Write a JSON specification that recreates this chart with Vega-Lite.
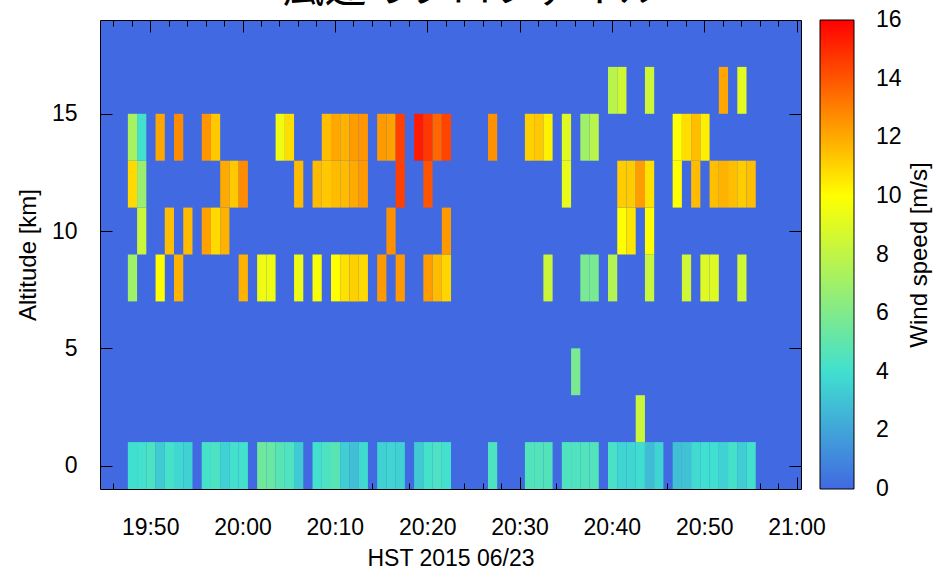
{
  "$schema": "https://vega.github.io/schema/vega-lite/v6.json",
  "autosize": {"type": "none"},
  "padding": {"left": 100, "top": 20, "right": 134, "bottom": 82},
  "width": 701,
  "height": 469,
  "background": "white",
  "title": {"text": "風速のプロファイル", "font": "Noto Sans CJK JP", "fontSize": 42, "fontWeight": "normal", "color": "black", "anchor": "middle", "frame": "group", "dx": 21, "offset": -24, "baseline": "alphabetic"},
  "config": {
    "view": {"fill": "#4169e1", "stroke": "black", "strokeWidth": 1},
    "font": "Liberation Sans",
    "axis": {"labelColor": "black", "titleColor": "black", "tickColor": "black", "tickWidth": 1, "domain": false, "grid": false, "labelFont": "Liberation Sans", "titleFont": "Liberation Sans", "titleFontWeight": "normal"},
    "legend": {"labelColor": "black", "titleColor": "black", "labelFont": "Liberation Sans", "titleFont": "Liberation Sans", "titleFontWeight": "normal"}
  },
  "data": {
    "format": {"parse": {"t": "date:'%H:%M:%S'", "e": "date:'%H:%M:%S'"}},
    "values": [
      {"t": "19:47:35", "e": "19:48:35", "a": -1, "b": 1, "w": 4.0}, {"t": "19:48:35", "e": "19:49:35", "a": -1, "b": 1, "w": 4.1}, {"t": "19:49:35", "e": "19:50:35", "a": -1, "b": 1, "w": 4.4}, {"t": "19:50:35", "e": "19:51:35", "a": -1, "b": 1, "w": 3.3}, {"t": "19:51:35", "e": "19:52:35", "a": -1, "b": 1, "w": 4.2}, {"t": "19:52:35", "e": "19:53:35", "a": -1, "b": 1, "w": 3.7}, {"t": "19:53:35", "e": "19:54:35", "a": -1, "b": 1, "w": 3.5},
      {"t": "19:55:35", "e": "19:56:35", "a": -1, "b": 1, "w": 4.2}, {"t": "19:56:35", "e": "19:57:35", "a": -1, "b": 1, "w": 4.4}, {"t": "19:57:35", "e": "19:58:35", "a": -1, "b": 1, "w": 3.5}, {"t": "19:58:35", "e": "19:59:35", "a": -1, "b": 1, "w": 4.1}, {"t": "19:59:35", "e": "20:00:35", "a": -1, "b": 1, "w": 4.1},
      {"t": "20:01:35", "e": "20:02:35", "a": -1, "b": 1, "w": 5.5}, {"t": "20:02:35", "e": "20:03:35", "a": -1, "b": 1, "w": 5.3}, {"t": "20:03:35", "e": "20:04:35", "a": -1, "b": 1, "w": 4.8}, {"t": "20:04:35", "e": "20:05:35", "a": -1, "b": 1, "w": 4.5}, {"t": "20:05:35", "e": "20:06:35", "a": -1, "b": 1, "w": 3.3},
      {"t": "20:07:35", "e": "20:08:35", "a": -1, "b": 1, "w": 4.1}, {"t": "20:08:35", "e": "20:09:35", "a": -1, "b": 1, "w": 4.4}, {"t": "20:09:35", "e": "20:10:35", "a": -1, "b": 1, "w": 4.8}, {"t": "20:10:35", "e": "20:11:35", "a": -1, "b": 1, "w": 3.4}, {"t": "20:11:35", "e": "20:12:35", "a": -1, "b": 1, "w": 2.9}, {"t": "20:12:35", "e": "20:13:35", "a": -1, "b": 1, "w": 3.8},
      {"t": "20:14:35", "e": "20:15:35", "a": -1, "b": 1, "w": 3.5}, {"t": "20:15:35", "e": "20:16:35", "a": -1, "b": 1, "w": 3.6}, {"t": "20:16:35", "e": "20:17:35", "a": -1, "b": 1, "w": 3.5},
      {"t": "20:18:35", "e": "20:19:35", "a": -1, "b": 1, "w": 3.3}, {"t": "20:19:35", "e": "20:20:35", "a": -1, "b": 1, "w": 4.2}, {"t": "20:20:35", "e": "20:21:35", "a": -1, "b": 1, "w": 4.4}, {"t": "20:21:35", "e": "20:22:35", "a": -1, "b": 1, "w": 4.1},
      {"t": "20:26:35", "e": "20:27:35", "a": -1, "b": 1, "w": 4.4},
      {"t": "20:30:35", "e": "20:31:35", "a": -1, "b": 1, "w": 4.6}, {"t": "20:31:35", "e": "20:32:35", "a": -1, "b": 1, "w": 4.6}, {"t": "20:32:35", "e": "20:33:35", "a": -1, "b": 1, "w": 4.6},
      {"t": "20:34:35", "e": "20:35:35", "a": -1, "b": 1, "w": 4.5}, {"t": "20:35:35", "e": "20:36:35", "a": -1, "b": 1, "w": 4.5}, {"t": "20:36:35", "e": "20:37:35", "a": -1, "b": 1, "w": 4.6}, {"t": "20:37:35", "e": "20:38:35", "a": -1, "b": 1, "w": 4.6},
      {"t": "20:39:35", "e": "20:40:35", "a": -1, "b": 1, "w": 4.3}, {"t": "20:40:35", "e": "20:41:35", "a": -1, "b": 1, "w": 3.6}, {"t": "20:41:35", "e": "20:42:35", "a": -1, "b": 1, "w": 3.7}, {"t": "20:42:35", "e": "20:43:35", "a": -1, "b": 1, "w": 3.9}, {"t": "20:43:35", "e": "20:44:35", "a": -1, "b": 1, "w": 2.8}, {"t": "20:44:35", "e": "20:45:35", "a": -1, "b": 1, "w": 3.6},
      {"t": "20:46:35", "e": "20:47:35", "a": -1, "b": 1, "w": 2.9}, {"t": "20:47:35", "e": "20:48:35", "a": -1, "b": 1, "w": 3.0}, {"t": "20:48:35", "e": "20:49:35", "a": -1, "b": 1, "w": 3.8}, {"t": "20:49:35", "e": "20:50:35", "a": -1, "b": 1, "w": 4.0}, {"t": "20:50:35", "e": "20:51:35", "a": -1, "b": 1, "w": 4.0}, {"t": "20:51:35", "e": "20:52:35", "a": -1, "b": 1, "w": 3.5}, {"t": "20:52:35", "e": "20:53:35", "a": -1, "b": 1, "w": 4.2}, {"t": "20:53:35", "e": "20:54:35", "a": -1, "b": 1, "w": 3.4}, {"t": "20:54:35", "e": "20:55:35", "a": -1, "b": 1, "w": 4.1},
      {"t": "20:42:35", "e": "20:43:35", "a": 1, "b": 3, "w": 8.3},
      {"t": "20:35:35", "e": "20:36:35", "a": 3, "b": 5, "w": 5.8},
      {"t": "19:47:35", "e": "19:48:35", "a": 7, "b": 9, "w": 7.0}, {"t": "19:50:35", "e": "19:51:35", "a": 7, "b": 9, "w": 10.0}, {"t": "19:52:35", "e": "19:53:35", "a": 7, "b": 9, "w": 11.8}, {"t": "19:59:35", "e": "20:00:35", "a": 7, "b": 9, "w": 11.8}, {"t": "20:01:35", "e": "20:02:35", "a": 7, "b": 9, "w": 9.5}, {"t": "20:02:35", "e": "20:03:35", "a": 7, "b": 9, "w": 9.5}, {"t": "20:05:35", "e": "20:06:35", "a": 7, "b": 9, "w": 9.4}, {"t": "20:07:35", "e": "20:08:35", "a": 7, "b": 9, "w": 9.8}, {"t": "20:09:35", "e": "20:10:35", "a": 7, "b": 9, "w": 10.0}, {"t": "20:10:35", "e": "20:11:35", "a": 7, "b": 9, "w": 10.7}, {"t": "20:11:35", "e": "20:12:35", "a": 7, "b": 9, "w": 11.1}, {"t": "20:12:35", "e": "20:13:35", "a": 7, "b": 9, "w": 10.9}, {"t": "20:14:35", "e": "20:15:35", "a": 7, "b": 9, "w": 12.4}, {"t": "20:16:35", "e": "20:17:35", "a": 7, "b": 9, "w": 12.4}, {"t": "20:19:35", "e": "20:20:35", "a": 7, "b": 9, "w": 12.3}, {"t": "20:20:35", "e": "20:21:35", "a": 7, "b": 9, "w": 11.6}, {"t": "20:21:35", "e": "20:22:35", "a": 7, "b": 9, "w": 11.0}, {"t": "20:32:35", "e": "20:33:35", "a": 7, "b": 9, "w": 8.3}, {"t": "20:36:35", "e": "20:37:35", "a": 7, "b": 9, "w": 5.8}, {"t": "20:37:35", "e": "20:38:35", "a": 7, "b": 9, "w": 5.8}, {"t": "20:39:35", "e": "20:40:35", "a": 7, "b": 9, "w": 7.6}, {"t": "20:43:35", "e": "20:44:35", "a": 7, "b": 9, "w": 8.2}, {"t": "20:47:35", "e": "20:48:35", "a": 7, "b": 9, "w": 8.5}, {"t": "20:49:35", "e": "20:50:35", "a": 7, "b": 9, "w": 9.0}, {"t": "20:50:35", "e": "20:51:35", "a": 7, "b": 9, "w": 9.0}, {"t": "20:53:35", "e": "20:54:35", "a": 7, "b": 9, "w": 8.5},
      {"t": "19:48:35", "e": "19:49:35", "a": 9, "b": 11, "w": 8.3}, {"t": "19:51:35", "e": "19:52:35", "a": 9, "b": 11, "w": 11.5}, {"t": "19:53:35", "e": "19:54:35", "a": 9, "b": 11, "w": 11.6}, {"t": "19:55:35", "e": "19:56:35", "a": 9, "b": 11, "w": 12.2}, {"t": "19:56:35", "e": "19:57:35", "a": 9, "b": 11, "w": 10.9}, {"t": "19:57:35", "e": "19:58:35", "a": 9, "b": 11, "w": 11.8}, {"t": "20:15:35", "e": "20:16:35", "a": 9, "b": 11, "w": 12.6}, {"t": "20:21:35", "e": "20:22:35", "a": 9, "b": 11, "w": 12.4}, {"t": "20:40:35", "e": "20:41:35", "a": 9, "b": 11, "w": 10.0}, {"t": "20:41:35", "e": "20:42:35", "a": 9, "b": 11, "w": 10.6}, {"t": "20:43:35", "e": "20:44:35", "a": 9, "b": 11, "w": 10.0},
      {"t": "19:47:35", "e": "19:48:35", "a": 11, "b": 13, "w": 10.9}, {"t": "19:48:35", "e": "19:49:35", "a": 11, "b": 13, "w": 6.8}, {"t": "19:57:35", "e": "19:58:35", "a": 11, "b": 13, "w": 12.0}, {"t": "19:58:35", "e": "19:59:35", "a": 11, "b": 13, "w": 11.3}, {"t": "19:59:35", "e": "20:00:35", "a": 11, "b": 13, "w": 12.7}, {"t": "20:05:35", "e": "20:06:35", "a": 11, "b": 13, "w": 11.6}, {"t": "20:07:35", "e": "20:08:35", "a": 11, "b": 13, "w": 11.6}, {"t": "20:08:35", "e": "20:09:35", "a": 11, "b": 13, "w": 11.3}, {"t": "20:09:35", "e": "20:10:35", "a": 11, "b": 13, "w": 11.6}, {"t": "20:10:35", "e": "20:11:35", "a": 11, "b": 13, "w": 11.6}, {"t": "20:11:35", "e": "20:12:35", "a": 11, "b": 13, "w": 12.0}, {"t": "20:12:35", "e": "20:13:35", "a": 11, "b": 13, "w": 12.4}, {"t": "20:16:35", "e": "20:17:35", "a": 11, "b": 13, "w": 14.5}, {"t": "20:19:35", "e": "20:20:35", "a": 11, "b": 13, "w": 14.0}, {"t": "20:34:35", "e": "20:35:35", "a": 11, "b": 13, "w": 9.3}, {"t": "20:40:35", "e": "20:41:35", "a": 11, "b": 13, "w": 11.2}, {"t": "20:41:35", "e": "20:42:35", "a": 11, "b": 13, "w": 11.2}, {"t": "20:42:35", "e": "20:43:35", "a": 11, "b": 13, "w": 12.3}, {"t": "20:43:35", "e": "20:44:35", "a": 11, "b": 13, "w": 10.7}, {"t": "20:46:35", "e": "20:47:35", "a": 11, "b": 13, "w": 10.0}, {"t": "20:48:35", "e": "20:49:35", "a": 11, "b": 13, "w": 11.6}, {"t": "20:50:35", "e": "20:51:35", "a": 11, "b": 13, "w": 11.5}, {"t": "20:51:35", "e": "20:52:35", "a": 11, "b": 13, "w": 11.8}, {"t": "20:52:35", "e": "20:53:35", "a": 11, "b": 13, "w": 11.5}, {"t": "20:53:35", "e": "20:54:35", "a": 11, "b": 13, "w": 11.2}, {"t": "20:54:35", "e": "20:55:35", "a": 11, "b": 13, "w": 11.5},
      {"t": "19:47:35", "e": "19:48:35", "a": 13, "b": 15, "w": 7.3}, {"t": "19:48:35", "e": "19:49:35", "a": 13, "b": 15, "w": 4.1}, {"t": "19:50:35", "e": "19:51:35", "a": 13, "b": 15, "w": 12.1}, {"t": "19:52:35", "e": "19:53:35", "a": 13, "b": 15, "w": 12.7}, {"t": "19:55:35", "e": "19:56:35", "a": 13, "b": 15, "w": 12.5}, {"t": "19:56:35", "e": "19:57:35", "a": 13, "b": 15, "w": 11.3}, {"t": "20:03:35", "e": "20:04:35", "a": 13, "b": 15, "w": 9.5}, {"t": "20:04:35", "e": "20:05:35", "a": 13, "b": 15, "w": 10.8}, {"t": "20:08:35", "e": "20:09:35", "a": 13, "b": 15, "w": 11.5}, {"t": "20:09:35", "e": "20:10:35", "a": 13, "b": 15, "w": 12.1}, {"t": "20:10:35", "e": "20:11:35", "a": 13, "b": 15, "w": 11.8}, {"t": "20:11:35", "e": "20:12:35", "a": 13, "b": 15, "w": 12.3}, {"t": "20:12:35", "e": "20:13:35", "a": 13, "b": 15, "w": 12.5}, {"t": "20:14:35", "e": "20:15:35", "a": 13, "b": 15, "w": 12.4}, {"t": "20:15:35", "e": "20:16:35", "a": 13, "b": 15, "w": 12.2}, {"t": "20:16:35", "e": "20:17:35", "a": 13, "b": 15, "w": 14.5}, {"t": "20:18:35", "e": "20:19:35", "a": 13, "b": 15, "w": 15.4}, {"t": "20:19:35", "e": "20:20:35", "a": 13, "b": 15, "w": 14.7}, {"t": "20:20:35", "e": "20:21:35", "a": 13, "b": 15, "w": 13.6}, {"t": "20:21:35", "e": "20:22:35", "a": 13, "b": 15, "w": 14.4}, {"t": "20:26:35", "e": "20:27:35", "a": 13, "b": 15, "w": 12.6}, {"t": "20:30:35", "e": "20:31:35", "a": 13, "b": 15, "w": 11.1}, {"t": "20:31:35", "e": "20:32:35", "a": 13, "b": 15, "w": 11.3}, {"t": "20:32:35", "e": "20:33:35", "a": 13, "b": 15, "w": 10.3}, {"t": "20:34:35", "e": "20:35:35", "a": 13, "b": 15, "w": 9.0}, {"t": "20:36:35", "e": "20:37:35", "a": 13, "b": 15, "w": 7.0}, {"t": "20:37:35", "e": "20:38:35", "a": 13, "b": 15, "w": 7.8}, {"t": "20:46:35", "e": "20:47:35", "a": 13, "b": 15, "w": 10.0}, {"t": "20:47:35", "e": "20:48:35", "a": 13, "b": 15, "w": 10.8}, {"t": "20:48:35", "e": "20:49:35", "a": 13, "b": 15, "w": 11.5}, {"t": "20:49:35", "e": "20:50:35", "a": 13, "b": 15, "w": 10.4},
      {"t": "20:39:35", "e": "20:40:35", "a": 15, "b": 17, "w": 7.8}, {"t": "20:40:35", "e": "20:41:35", "a": 15, "b": 17, "w": 8.5}, {"t": "20:43:35", "e": "20:44:35", "a": 15, "b": 17, "w": 8.4}, {"t": "20:51:35", "e": "20:52:35", "a": 15, "b": 17, "w": 12.1}, {"t": "20:53:35", "e": "20:54:35", "a": 15, "b": 17, "w": 9.1}
    ]
  },
  "layer": [
    {
      "mark": {"type": "rect", "strokeWidth": 0},
      "encoding": {
        "x": {
          "field": "t", "type": "temporal",
          "scale": {"domain": [{"year": 1900, "month": 1, "date": 1, "hours": 19, "minutes": 44, "seconds": 34}, {"year": 1900, "month": 1, "date": 1, "hours": 21, "minutes": 0, "seconds": 29}], "nice": false},
          "axis": {
            "orient": "bottom",
            "values": [
              {"year": 1900, "month": 1, "date": 1, "hours": 19, "minutes": 46}, {"year": 1900, "month": 1, "date": 1, "hours": 19, "minutes": 48},
              {"year": 1900, "month": 1, "date": 1, "hours": 19, "minutes": 50}, {"year": 1900, "month": 1, "date": 1, "hours": 19, "minutes": 52},
              {"year": 1900, "month": 1, "date": 1, "hours": 19, "minutes": 54}, {"year": 1900, "month": 1, "date": 1, "hours": 19, "minutes": 56},
              {"year": 1900, "month": 1, "date": 1, "hours": 19, "minutes": 58}, {"year": 1900, "month": 1, "date": 1, "hours": 20, "minutes": 0},
              {"year": 1900, "month": 1, "date": 1, "hours": 20, "minutes": 2}, {"year": 1900, "month": 1, "date": 1, "hours": 20, "minutes": 4},
              {"year": 1900, "month": 1, "date": 1, "hours": 20, "minutes": 6}, {"year": 1900, "month": 1, "date": 1, "hours": 20, "minutes": 8},
              {"year": 1900, "month": 1, "date": 1, "hours": 20, "minutes": 10}, {"year": 1900, "month": 1, "date": 1, "hours": 20, "minutes": 12},
              {"year": 1900, "month": 1, "date": 1, "hours": 20, "minutes": 14}, {"year": 1900, "month": 1, "date": 1, "hours": 20, "minutes": 16},
              {"year": 1900, "month": 1, "date": 1, "hours": 20, "minutes": 18}, {"year": 1900, "month": 1, "date": 1, "hours": 20, "minutes": 20},
              {"year": 1900, "month": 1, "date": 1, "hours": 20, "minutes": 22}, {"year": 1900, "month": 1, "date": 1, "hours": 20, "minutes": 24},
              {"year": 1900, "month": 1, "date": 1, "hours": 20, "minutes": 26}, {"year": 1900, "month": 1, "date": 1, "hours": 20, "minutes": 28},
              {"year": 1900, "month": 1, "date": 1, "hours": 20, "minutes": 30}, {"year": 1900, "month": 1, "date": 1, "hours": 20, "minutes": 32},
              {"year": 1900, "month": 1, "date": 1, "hours": 20, "minutes": 34}, {"year": 1900, "month": 1, "date": 1, "hours": 20, "minutes": 36},
              {"year": 1900, "month": 1, "date": 1, "hours": 20, "minutes": 38}, {"year": 1900, "month": 1, "date": 1, "hours": 20, "minutes": 40},
              {"year": 1900, "month": 1, "date": 1, "hours": 20, "minutes": 42}, {"year": 1900, "month": 1, "date": 1, "hours": 20, "minutes": 44},
              {"year": 1900, "month": 1, "date": 1, "hours": 20, "minutes": 46}, {"year": 1900, "month": 1, "date": 1, "hours": 20, "minutes": 48},
              {"year": 1900, "month": 1, "date": 1, "hours": 20, "minutes": 50}, {"year": 1900, "month": 1, "date": 1, "hours": 20, "minutes": 52},
              {"year": 1900, "month": 1, "date": 1, "hours": 20, "minutes": 54}, {"year": 1900, "month": 1, "date": 1, "hours": 20, "minutes": 56},
              {"year": 1900, "month": 1, "date": 1, "hours": 20, "minutes": 58}, {"year": 1900, "month": 1, "date": 1, "hours": 21, "minutes": 0}
            ],
            "tickSize": {"condition": {"test": "minutes(datum.value) % 10 === 0", "value": -12}, "value": -6},
            "labelExpr": "minutes(datum.value) % 10 === 0 ? timeFormat(datum.value, '%H:%M') : ''",
            "labelPadding": 39,
            "labelFontSize": 23,
            "title": "HST 2015 06/23",
            "titleFontSize": 23,
            "titlePadding": 8
          }
        },
        "x2": {"field": "e"},
        "y": {
          "field": "a", "type": "quantitative",
          "scale": {"domain": [-1, 19], "nice": false, "zero": false},
          "axis": {
            "orient": "left",
            "values": [0, 5, 10, 15],
            "tickSize": -12,
            "labelPadding": 35,
            "labelFontSize": 23,
            "title": "Altitude [km]",
            "titleFontSize": 24,
            "titlePadding": 11
          }
        },
        "y2": {"field": "b"},
        "color": {
          "field": "w", "type": "quantitative",
          "scale": {"domain": [0, 4, 10, 16], "range": ["#4169e1", "#40e0d0", "#ffff00", "#ff0000"], "interpolate": "rgb"},
          "legend": {
            "title": "Wind speed [m/s]",
            "titleOrient": "right",
            "titleFontSize": 24,
            "titleLimit": 400,
            "titlePadding": 6,
            "orient": "right",
            "direction": "vertical",
            "gradientLength": 469,
            "gradientThickness": 34,
            "gradientStrokeColor": "black",
            "gradientStrokeWidth": 1,
            "values": [0, 2, 4, 6, 8, 10, 12, 14, 16],
            "labelFontSize": 23,
            "labelOffset": 22,
            "labelOverlap": false,
            "offset": 18,
            "padding": 0,
            "encode": {
              "labels": {"update": {"baseline": {"value": "middle"}}},
              "title": {"update": {"angle": {"value": -90}, "baseline": {"value": "top"}}}
            }
          }
        }
      }
    },
    {
      "mark": {"type": "point", "opacity": 0},
      "encoding": {
        "x": {
          "field": "t", "type": "temporal",
          "axis": {
            "orient": "top",
            "values": [
              {"year": 1900, "month": 1, "date": 1, "hours": 19, "minutes": 46}, {"year": 1900, "month": 1, "date": 1, "hours": 19, "minutes": 48},
              {"year": 1900, "month": 1, "date": 1, "hours": 19, "minutes": 50}, {"year": 1900, "month": 1, "date": 1, "hours": 19, "minutes": 52},
              {"year": 1900, "month": 1, "date": 1, "hours": 19, "minutes": 54}, {"year": 1900, "month": 1, "date": 1, "hours": 19, "minutes": 56},
              {"year": 1900, "month": 1, "date": 1, "hours": 19, "minutes": 58}, {"year": 1900, "month": 1, "date": 1, "hours": 20, "minutes": 0},
              {"year": 1900, "month": 1, "date": 1, "hours": 20, "minutes": 2}, {"year": 1900, "month": 1, "date": 1, "hours": 20, "minutes": 4},
              {"year": 1900, "month": 1, "date": 1, "hours": 20, "minutes": 6}, {"year": 1900, "month": 1, "date": 1, "hours": 20, "minutes": 8},
              {"year": 1900, "month": 1, "date": 1, "hours": 20, "minutes": 10}, {"year": 1900, "month": 1, "date": 1, "hours": 20, "minutes": 12},
              {"year": 1900, "month": 1, "date": 1, "hours": 20, "minutes": 14}, {"year": 1900, "month": 1, "date": 1, "hours": 20, "minutes": 16},
              {"year": 1900, "month": 1, "date": 1, "hours": 20, "minutes": 18}, {"year": 1900, "month": 1, "date": 1, "hours": 20, "minutes": 20},
              {"year": 1900, "month": 1, "date": 1, "hours": 20, "minutes": 22}, {"year": 1900, "month": 1, "date": 1, "hours": 20, "minutes": 24},
              {"year": 1900, "month": 1, "date": 1, "hours": 20, "minutes": 26}, {"year": 1900, "month": 1, "date": 1, "hours": 20, "minutes": 28},
              {"year": 1900, "month": 1, "date": 1, "hours": 20, "minutes": 30}, {"year": 1900, "month": 1, "date": 1, "hours": 20, "minutes": 32},
              {"year": 1900, "month": 1, "date": 1, "hours": 20, "minutes": 34}, {"year": 1900, "month": 1, "date": 1, "hours": 20, "minutes": 36},
              {"year": 1900, "month": 1, "date": 1, "hours": 20, "minutes": 38}, {"year": 1900, "month": 1, "date": 1, "hours": 20, "minutes": 40},
              {"year": 1900, "month": 1, "date": 1, "hours": 20, "minutes": 42}, {"year": 1900, "month": 1, "date": 1, "hours": 20, "minutes": 44},
              {"year": 1900, "month": 1, "date": 1, "hours": 20, "minutes": 46}, {"year": 1900, "month": 1, "date": 1, "hours": 20, "minutes": 48},
              {"year": 1900, "month": 1, "date": 1, "hours": 20, "minutes": 50}, {"year": 1900, "month": 1, "date": 1, "hours": 20, "minutes": 52},
              {"year": 1900, "month": 1, "date": 1, "hours": 20, "minutes": 54}, {"year": 1900, "month": 1, "date": 1, "hours": 20, "minutes": 56},
              {"year": 1900, "month": 1, "date": 1, "hours": 20, "minutes": 58}, {"year": 1900, "month": 1, "date": 1, "hours": 21, "minutes": 0}
            ],
            "tickSize": {"condition": {"test": "minutes(datum.value) % 10 === 0", "value": -12}, "value": -6},
            "labels": false,
            "title": null
          }
        },
        "y": {
          "field": "a", "type": "quantitative",
          "axis": {"orient": "right", "values": [0, 5, 10, 15], "tickSize": -12, "labels": false, "title": null}
        }
      }
    }
  ],
  "resolve": {"axis": {"x": "independent", "y": "independent"}}
}
